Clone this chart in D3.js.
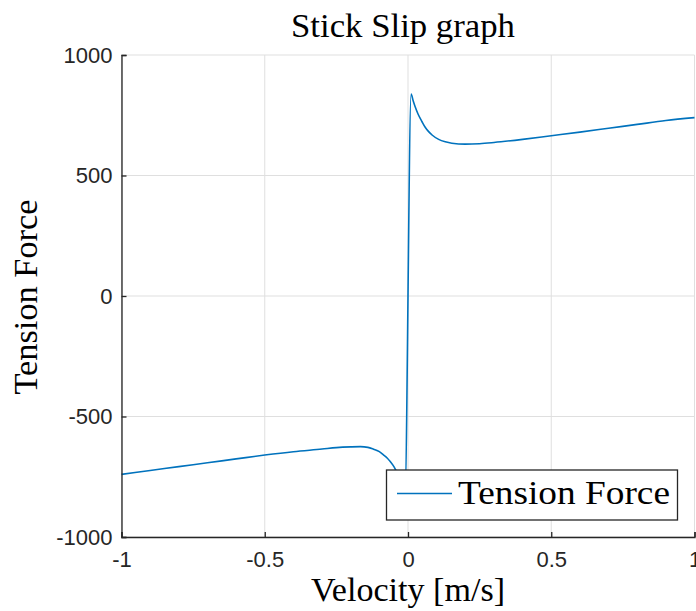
<!DOCTYPE html>
<html>
  <head>
    <meta charset="utf-8">
    <title>Stick Slip graph</title>
    <script src="https://cdn.jsdelivr.net/npm/d3@7"></script>
    <style>
      body { margin: 0; background: #fff; }
      .serif { font-family: "Liberation Serif", "Times New Roman", serif; fill: #000; }
      .tick text { font-family: "Liberation Sans", Arial, sans-serif; font-size: 22px; fill: #262626; }
    </style>
  </head>
  <body>
    <svg id="chart" width="696" height="611"></svg>

    <script>
      // data
      velocity = [-1, -0.9, -0.8, -0.7, -0.6, -0.5, -0.4, -0.3, -0.25, -0.2, -0.166, -0.14, -0.12, -0.1,
        -0.085, -0.072, -0.062, -0.052, -0.044, -0.035, -0.025, -0.018, -0.011,
        0.011, 0.018, 0.025, 0.035, 0.049, 0.06, 0.072, 0.085, 0.107, 0.13, 0.153, 0.2, 0.25, 0.3,
        0.4, 0.5, 0.6, 0.7, 0.8, 0.9, 1];
      tension = [-740, -724, -708, -692, -676, -660, -646, -635, -629, -626, -625, -628, -636, -646,
        -660, -673, -687, -703, -719, -740, -775, -805, -838,
        838, 810, 785, 755, 723, 700, 682, 667, 650, 640, 634, 630, 632, 637,
        650, 665, 680, 696, 712, 728, 740];
      xTicks = [-1, -0.5, 0, 0.5, 1];
      yTicks = [-1000, -500, 0, 500, 1000];

      svg = d3.select("#chart");
      margin = { top: 55, right: 1.5, bottom: 74, left: 121.5 };
      width = 696 - margin.left - margin.right;
      height = 611 - margin.top - margin.bottom;

      x = d3.scaleLinear().domain([-1, 1]).range([margin.left, margin.left + width]);
      y = d3.scaleLinear().domain([-1000, 1000]).range([margin.top + height, margin.top]);

      // grid
      grid = svg.append("g");
      grid.selectAll(".vgrid")
          .data(xTicks)
        .enter().append("line")
          .attr("x1", d => x(d)).attr("x2", d => x(d))
          .attr("y1", y(-1000)).attr("y2", y(1000))
          .attr("stroke", "#dfdfdf").attr("stroke-width", 1);
      grid.selectAll(".hgrid")
          .data(yTicks)
        .enter().append("line")
          .attr("y1", d => y(d)).attr("y2", d => y(d))
          .attr("x1", x(-1)).attr("x2", x(1))
          .attr("stroke", "#dfdfdf").attr("stroke-width", 1);

      // curve
      points = velocity.map((v, i) => [v, tension[i]]);
      svg.append("path")
        .datum(points)
        .attr("fill", "none")
        .attr("stroke", "#0072BD")
        .attr("stroke-width", 1.6)
        .attr("d", d3.line().x(d => x(d[0])).y(d => y(d[1])).curve(d3.curveMonotoneX));

      // axes, ticks point inward
      xAxis = d3.axisBottom(x).tickValues(xTicks).tickSize(-5).tickPadding(14).tickFormat(d3.format("~g"));
      yAxis = d3.axisLeft(y).tickValues(yTicks).tickSize(-5).tickPadding(9).tickFormat(d3.format("~g"));

      gx = svg.append("g").attr("transform", "translate(0," + (margin.top + height) + ")").call(xAxis);
      gy = svg.append("g").attr("transform", "translate(" + margin.left + ",0)").call(yAxis);
      [gx, gy].forEach(g => {
        g.select(".domain").attr("stroke", "#262626").attr("stroke-width", 1.3);
        g.selectAll(".tick line").attr("stroke", "#262626").attr("stroke-width", 1.3);
      });
      gx.selectAll(".tick text").text(d => d3.format("~g")(d).replace("−", "-"));
      gy.selectAll(".tick text").text(d => d3.format("~g")(d).replace("−", "-"));

      // titles (stretched a bit to match the wider LaTeX font)
      svg.append("text").attr("class", "serif")
        .attr("x", 403).attr("y", 37)
        .attr("text-anchor", "middle").attr("font-size", 34)
        .attr("textLength", 224).attr("lengthAdjust", "spacingAndGlyphs")
        .text("Stick Slip graph");
      svg.append("text").attr("class", "serif")
        .attr("x", 408).attr("y", 601)
        .attr("text-anchor", "middle").attr("font-size", 34)
        .attr("textLength", 194).attr("lengthAdjust", "spacingAndGlyphs")
        .text("Velocity [m/s]");
      svg.append("text").attr("class", "serif")
        .attr("transform", "translate(37,297) rotate(-90)")
        .attr("text-anchor", "middle").attr("font-size", 34)
        .attr("textLength", 195).attr("lengthAdjust", "spacingAndGlyphs")
        .text("Tension Force");

      // legend
      legend = svg.append("g");
      legend.append("rect")
        .attr("x", 386.5).attr("y", 470).attr("width", 291).attr("height", 50)
        .attr("fill", "#fff").attr("stroke", "#262626").attr("stroke-width", 1.3);
      legend.append("line")
        .attr("x1", 397).attr("x2", 452).attr("y1", 493.5).attr("y2", 493.5)
        .attr("stroke", "#0072BD").attr("stroke-width", 1.6);
      legend.append("text").attr("class", "serif")
        .attr("x", 458).attr("y", 503.5).attr("font-size", 34)
        .attr("textLength", 212).attr("lengthAdjust", "spacingAndGlyphs")
        .text("Tension Force");
    </script>
  </body>
</html>
